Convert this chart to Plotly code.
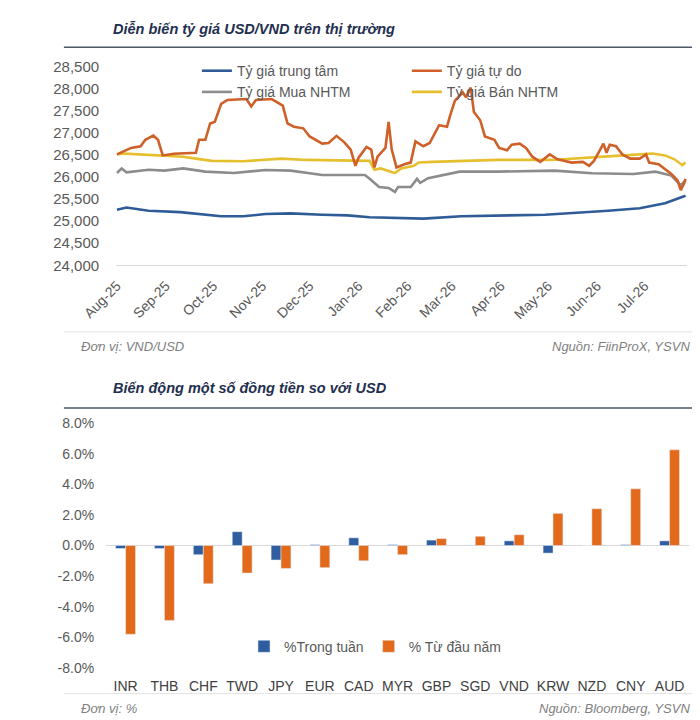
import plotly.graph_objects as go

# ---- Diễn biến tỷ giá USD/VND (top chart) ----
central_dates = ["2025-08-01", "2025-08-07", "2025-08-21", "2025-09-10", "2025-10-06", "2025-10-20",
                 "2025-11-03", "2025-11-19", "2025-12-09", "2025-12-25", "2026-01-08", "2026-02-11",
                 "2026-03-07", "2026-04-29", "2026-06-08", "2026-06-28", "2026-07-14", "2026-07-22",
                 "2026-07-27"]
central_vals = [25257, 25308, 25235, 25204, 25109, 25109, 25160, 25175, 25146, 25131, 25087, 25058,
                25109, 25146, 25235, 25293, 25404, 25500, 25573]

buy_dates = ["2025-08-01", "2025-08-04", "2025-08-07", "2025-08-21", "2025-08-31", "2025-09-12",
             "2025-09-26", "2025-10-14", "2025-11-03", "2025-11-19", "2025-12-09", "2025-12-19",
             "2026-01-05", "2026-01-08", "2026-01-14", "2026-01-20", "2026-01-24", "2026-01-26",
             "2026-02-03", "2026-02-07", "2026-02-09", "2026-02-14", "2026-02-22", "2026-03-06",
             "2026-03-30", "2026-05-05", "2026-05-29", "2026-06-24", "2026-07-08", "2026-07-18",
             "2026-07-24", "2026-07-27"]
buy_vals = [26089, 26193, 26104, 26164, 26142, 26193, 26120, 26089, 26156, 26142, 26045, 26045,
            26045, 25957, 25773, 25751, 25662, 25773, 25773, 25957, 25868, 25972, 26031, 26120,
            26120, 26142, 26082, 26067, 26120, 26031, 25810, 25920]

sell_dates = ["2025-08-01", "2025-08-05", "2025-08-15", "2025-08-31", "2025-09-12", "2025-09-20",
              "2025-09-30", "2025-10-20", "2025-10-30", "2025-11-13", "2025-11-29", "2025-12-19",
              "2026-01-08", "2026-01-11", "2026-01-15", "2026-01-24", "2026-01-28", "2026-02-05",
              "2026-02-08", "2026-02-17", "2026-03-09", "2026-03-30", "2026-05-03", "2026-05-29",
              "2026-06-18", "2026-07-06", "2026-07-14", "2026-07-20", "2026-07-25", "2026-07-27"]
sell_vals = [26510, 26532, 26510, 26487, 26458, 26414, 26363, 26355, 26385, 26414, 26385, 26377,
             26363, 26164, 26193, 26089, 26193, 26253, 26325, 26340, 26363, 26385, 26385, 26437,
             26487, 26532, 26487, 26399, 26266, 26325]

free_dates = ["2025-08-01", "2025-08-10", "2025-08-16", "2025-08-19", "2025-08-24", "2025-08-27",
              "2025-08-30", "2025-09-06", "2025-09-20", "2025-09-22", "2025-09-26", "2025-09-29",
              "2025-10-02", "2025-10-06", "2025-10-10", "2025-10-22", "2025-10-25", "2025-10-28",
              "2025-11-07", "2025-11-14", "2025-11-17", "2025-11-21", "2025-11-27", "2025-12-01",
              "2025-12-09", "2025-12-13", "2025-12-18", "2025-12-23", "2025-12-27", "2025-12-30",
              "2026-01-01", "2026-01-06", "2026-01-09", "2026-01-11", "2026-01-13", "2026-01-18",
              "2026-01-20", "2026-01-22", "2026-01-25", "2026-01-30", "2026-02-03", "2026-02-06",
              "2026-02-11", "2026-02-15", "2026-02-21", "2026-02-26", "2026-02-28", "2026-03-03",
              "2026-03-08", "2026-03-10", "2026-03-13", "2026-03-15", "2026-03-19", "2026-03-22",
              "2026-03-28", "2026-03-31", "2026-04-05", "2026-04-08", "2026-04-13", "2026-04-17",
              "2026-04-21", "2026-04-26", "2026-05-02", "2026-05-07", "2026-05-16", "2026-05-23",
              "2026-05-27", "2026-05-30", "2026-06-03", "2026-06-05", "2026-06-07", "2026-06-09",
              "2026-06-13", "2026-06-17", "2026-06-22", "2026-06-28", "2026-07-02", "2026-07-04",
              "2026-07-10", "2026-07-14", "2026-07-18", "2026-07-22", "2026-07-24", "2026-07-26",
              "2026-07-27"]
free_vals = [26510, 26657, 26695, 26841, 26938, 26841, 26487, 26525, 26547, 26841, 26841, 27210,
             27248, 27653, 27741, 27763, 27593, 27741, 27763, 27615, 27210, 27137, 27100, 26916,
             26753, 26768, 26930, 26783, 26620, 26253, 26437, 26680, 26620, 26215, 26458, 26657,
             27248, 26620, 26215, 26288, 26325, 26805, 26694, 26768, 27173, 27137, 27394, 27726,
             27912, 27801, 28022, 27469, 27283, 26916, 26841, 26657, 26606, 26730, 26753, 26657,
             26458, 26340, 26509, 26399, 26325, 26340, 26253, 26362, 26620, 26753, 26547, 26730,
             26694, 26509, 26414, 26414, 26509, 26325, 26288, 26178, 26067, 25920, 25700, 25846,
             25957]

# ---- Biến động một số đồng tiền so với USD (bottom chart) ----
currencies = ["INR", "THB", "CHF", "TWD", "JPY", "EUR", "CAD", "MYR", "GBP", "SGD", "VND", "KRW",
              "NZD", "CNY", "AUD"]
week_chg = [-0.2, -0.2, -0.6, 0.9, -0.95, 0.05, 0.5, 0.05, 0.35, 0.02, 0.3, -0.5, 0.0, 0.05, 0.3]
ytd_chg = [-5.8, -4.9, -2.5, -1.8, -1.5, -1.45, -1.0, -0.6, 0.45, 0.6, 0.7, 2.1, 2.4, 3.7, 6.25]
pct_ticks = [-8, -6, -4, -2, 0, 2, 4, 6, 8]
pct_labels = ["-8.0%", "-6.0%", "-4.0%", "-2.0%", "0.0%", "2.0%", "4.0%", "6.0%", "8.0%"]

W, H = 700, 720
FONT = "Liberation Sans, Arial, sans-serif"
GREY_TXT = "#595959"


def px(x):
    return x / W


def py(y):
    return 1 - y / H


fig = go.Figure()

# line traces (order: blue, grey, yellow, orange on top)
fig.add_trace(go.Scatter(x=central_dates, y=central_vals, name="Tỷ giá trung tâm", mode="lines",
                         line=dict(color="#2F5C96", width=2.6), legend="legend"))
fig.add_trace(go.Scatter(x=buy_dates, y=buy_vals, name="Tỷ giá Mua NHTM", mode="lines",
                         line=dict(color="#8C8C8C", width=2.6), legend="legend"))
fig.add_trace(go.Scatter(x=sell_dates, y=sell_vals, name="Tỷ giá Bán NHTM", mode="lines",
                         line=dict(color="#E6BF2E", width=2.6), legend="legend2"))
fig.add_trace(go.Scatter(x=free_dates, y=free_vals, name="Tỷ giá tự do", mode="lines",
                         line=dict(color="#CF6128", width=2.6), legend="legend2"))

# bar traces
fig.add_trace(go.Bar(x=currencies, y=week_chg, name="%Trong tuần", marker_color="#2E5E9F",
                     xaxis="x2", yaxis="y2", legend="legend3"))
fig.add_trace(go.Bar(x=currencies, y=ytd_chg, name="% Từ đầu năm", marker_color="#E46A1B",
                     xaxis="x2", yaxis="y2", legend="legend3"))

fig.update_layout(
    width=W, height=H,
    margin=dict(l=0, r=0, t=0, b=0),
    paper_bgcolor="white", plot_bgcolor="rgba(0,0,0,0)",
    font=dict(family=FONT, size=14, color=GREY_TXT),
    barmode="group", bargap=0.49, bargroupgap=0,
    xaxis=dict(domain=[px(77), px(678)], type="date",
               range=["2025-07-31 12:00", "2026-07-28"],
               dtick="M1", tick0="2025-08-01", tickformat="%b-%y", tickangle=-45,
               showgrid=False, zeroline=False, showline=True, linecolor="#D9D9D9", linewidth=1,
               ticks="", ticklabelstandoff=6, tickfont=dict(size=14, color=GREY_TXT)),
    yaxis=dict(domain=[py(255), py(40.3)], range=[24000, 28750], dtick=500, tickformat=",d",
               showgrid=False, zeroline=False, ticks="", ticklabelstandoff=16,
               tickfont=dict(size=15, color=GREY_TXT)),
    xaxis2=dict(domain=[px(66.5), px(680)], anchor="y2", type="category",
                showgrid=False, zeroline=False, showline=False, ticks="",
                ticklabelstandoff=8, tickfont=dict(size=14, color="#404040")),
    yaxis2=dict(domain=[py(666.7), py(416.3)], anchor="x2", range=[-8, 8],
                tickvals=pct_ticks, ticktext=pct_labels, showgrid=False,
                zeroline=True, zerolinecolor="#D9D9D9", zerolinewidth=1,
                ticks="", ticklabelstandoff=11, tickfont=dict(size=14, color=GREY_TXT)),
    legend=dict(x=px(162), y=py(40), xanchor="left", yanchor="top", orientation="v",
                bgcolor="rgba(0,0,0,0)", font=dict(size=14, color=GREY_TXT),
                tracegroupgap=0, itemwidth=30),
    legend2=dict(x=px(383), y=py(40), xanchor="left", yanchor="top", orientation="v",
                 bgcolor="rgba(0,0,0,0)", font=dict(size=14, color=GREY_TXT),
                 traceorder="reversed", tracegroupgap=0, itemwidth=30),
    legend3=dict(x=px(350), y=py(645), xanchor="center", yanchor="middle", orientation="h",
                 bgcolor="rgba(0,0,0,0)", font=dict(size=14, color=GREY_TXT), itemwidth=30),
)

# titles and footers
title_font = dict(family=FONT, size=14.5, color="#1F2F4F")
foot_font = dict(family=FONT, size=13, color="#7F7F7F")
fig.add_annotation(text="<b><i>Diễn biến tỷ giá USD/VND trên thị trường</i></b>", x=px(72), y=py(13),
                   xref="paper", yref="paper", xanchor="left", yanchor="middle", showarrow=False,
                   font=title_font)
fig.add_annotation(text="<b><i>Biến động một số đồng tiền so với USD</i></b>", x=px(72), y=py(380),
                   xref="paper", yref="paper", xanchor="left", yanchor="middle", showarrow=False,
                   font=title_font)
fig.add_annotation(text="<i>Đơn vị: VND/USD</i>", x=px(38), y=py(338), xref="paper", yref="paper",
                   xanchor="left", yanchor="middle", showarrow=False, font=foot_font)
fig.add_annotation(text="<i>Nguồn: FiinProX, YSVN</i>", x=px(683), y=py(338), xref="paper",
                   yref="paper", xanchor="right", yanchor="middle", showarrow=False, font=foot_font)
fig.add_annotation(text="<i>Đơn vị: %</i>", x=px(38), y=py(708), xref="paper", yref="paper",
                   xanchor="left", yanchor="middle", showarrow=False, font=foot_font)
fig.add_annotation(text="<i>Nguồn: Bloomberg, YSVN</i>", x=px(683), y=py(708), xref="paper",
                   yref="paper", xanchor="right", yanchor="middle", showarrow=False, font=foot_font)

# separator lines
for y, col, w in [(32, "#4A5868", 1.5), (323, "#E3E3E3", 1), (401, "#4A5868", 1.5), (693, "#E3E3E3", 1)]:
    fig.add_shape(type="line", xref="paper", yref="paper", x0=px(22), x1=px(696), y0=py(y), y1=py(y),
                  line=dict(color=col, width=w))

fig.write_html("out.html")
